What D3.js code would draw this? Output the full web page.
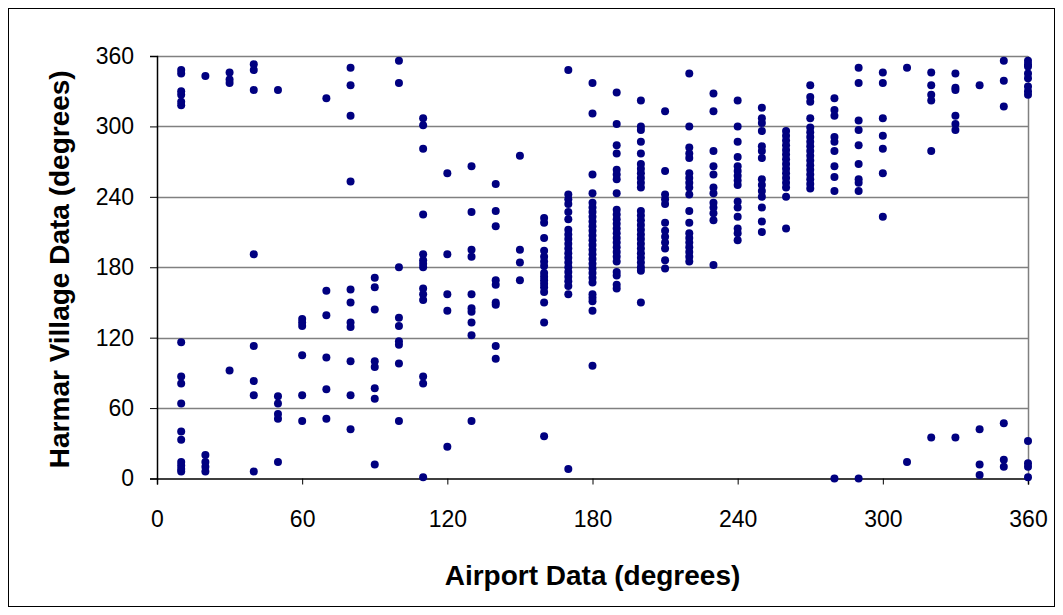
<!DOCTYPE html>
<html>
<head>
<meta charset="utf-8">
<script src="https://cdn.jsdelivr.net/npm/d3@7"></script>
<style>
  body { margin: 0; background: #fff; }
  svg { display: block; font-family: "Liberation Sans", Arial, sans-serif; }
</style>
</head>
<body>
<svg id="chart" width="1063" height="615"></svg>
<script>
// Wind direction pairs: airport reading (x) vs. Harmar Village reading (y), grouped by airport bin
const airportDirections = [10, 20, 30, 40, 50, 60, 70, 80, 90, 100, 110, 120, 130, 140, 150, 160, 170, 180,
  190, 200, 210, 220, 230, 240, 250, 260, 270, 280, 290, 300, 310, 320, 330, 340, 350, 360];

const harmarReadings = [
  [348, 345, 330, 327, 321, 318, 116, 87, 81, 64, 40, 33, 14, 11, 8, 6],
  [343, 20, 14, 10, 6],
  [346, 340, 337, 92],
  [353, 348, 331, 191, 113, 83, 71, 6],
  [331, 70, 64, 55, 51, 14],
  [136, 133, 130, 105, 71, 49],
  [324, 160, 139, 103, 76, 51],
  [350, 335, 309, 253, 161, 150, 133, 129, 100, 71, 42],
  [171, 163, 144, 100, 95, 77, 68, 12],
  [356, 337, 180, 137, 130, 117, 114, 98, 49],
  [307, 301, 281, 225, 191, 186, 183, 180, 162, 157, 152, 87, 81, 1],
  [260, 191, 157, 143, 27],
  [266, 227, 195, 189, 157, 145, 142, 133, 122, 49],
  [251, 228, 215, 169, 165, 150, 148, 113, 102],
  [275, 195, 184, 169],
  [222, 218, 205, 194, 189, 185, 181, 175, 172, 169, 166, 163, 159, 150, 133, 36],
  [348, 242, 238, 234, 227, 221, 212, 208, 204, 200, 196, 192, 188, 184, 180, 176, 172, 168, 164, 157, 8],
  [337, 311, 259, 243, 235, 231, 227, 223, 219, 215, 211, 207, 203, 199, 195, 191, 187, 183, 179, 175, 171, 167, 157, 154, 151, 143, 96],
  [329, 302, 284, 277, 263, 259, 255, 243, 229, 225, 221, 217, 213, 209, 205, 201, 197, 193, 189, 185, 176, 173, 165, 162],
  [322, 300, 297, 287, 277, 268, 264, 260, 256, 252, 248, 228, 224, 220, 216, 212, 208, 204, 200, 196, 192, 188, 184, 180, 177, 150],
  [313, 262, 242, 238, 234, 218, 211, 206, 201, 196, 186, 179],
  [345, 300, 282, 277, 273, 260, 256, 252, 248, 242, 228, 218, 209, 205, 201, 197, 193, 189, 185],
  [328, 313, 279, 266, 259, 248, 243, 235, 231, 226, 220, 182],
  [322, 300, 287, 274, 266, 262, 258, 254, 250, 236, 231, 223, 213, 209, 203],
  [316, 307, 303, 296, 283, 279, 273, 255, 250, 245, 240, 231, 219, 210],
  [296, 292, 288, 284, 280, 276, 272, 268, 264, 260, 256, 252, 248, 240, 213],
  [335, 325, 321, 307, 299, 295, 291, 287, 283, 279, 275, 271, 267, 263, 259, 255, 251, 247],
  [324, 314, 309, 291, 287, 279, 266, 257, 245, 0],
  [350, 337, 305, 297, 284, 268, 255, 252, 245, 0],
  [346, 337, 307, 292, 281, 260, 223],
  [350, 14],
  [346, 335, 327, 322, 279, 35],
  [345, 333, 331, 309, 302, 297, 35],
  [335, 42, 12, 3],
  [356, 339, 317, 47, 16, 10],
  [356, 353, 351, 345, 341, 334, 330, 327, 32, 13, 10, 1]
];

const xTickValues = [0, 60, 120, 180, 240, 300, 360];
const yTickValues = [0, 60, 120, 180, 240, 300, 360];
const xTitle = "Airport Data (degrees)";
const yTitle = "Harmar Village Data (degrees)";

const points = [];
airportDirections.forEach((a, i) => harmarReadings[i].forEach(h => points.push({ a, h })));

const svg = d3.select("#chart");
const W = 1063, H = 615;
const plot = { left: 157, top: 56, right: 1028, bottom: 478.5 };

// outer chart frame
svg.append("rect")
  .attr("x", 8.5).attr("y", 8.5)
  .attr("width", W - 17).attr("height", H - 17)
  .attr("fill", "#fff").attr("stroke", "#000").attr("stroke-width", 1);

const x = d3.scaleLinear().domain([0, 360]).range([plot.left, plot.right]);
const y = d3.scaleLinear().domain([0, 360]).range([plot.bottom, plot.top]);

// horizontal gridlines
svg.append("g")
  .selectAll("line")
  .data(yTickValues.filter(v => v > 0))
  .join("line")
  .attr("x1", plot.left).attr("x2", plot.right)
  .attr("y1", d => Math.round(y(d)) + 0.5).attr("y2", d => Math.round(y(d)) + 0.5)
  .attr("stroke", "#808080").attr("stroke-width", 1.5);

// plot area right border
svg.append("line")
  .attr("x1", plot.right + 0.5).attr("x2", plot.right + 0.5)
  .attr("y1", plot.top).attr("y2", plot.bottom)
  .attr("stroke", "#808080").attr("stroke-width", 1.5);

// axes
const xAxis = d3.axisBottom(x).tickValues(xTickValues).tickSize(6).tickPadding(26);
const yAxis = d3.axisLeft(y).tickValues(yTickValues).tickSize(7).tickPadding(16);

const gx = svg.append("g")
  .attr("transform", `translate(0,${plot.bottom})`)
  .call(xAxis);
const gy = svg.append("g")
  .attr("transform", `translate(${plot.left},0)`)
  .call(yAxis);

[gx, gy].forEach(g => {
  g.select(".domain").attr("stroke", "#000").attr("stroke-width", 1.5);
  g.selectAll(".tick line").attr("stroke", "#000").attr("stroke-width", 1);
  g.selectAll(".tick text")
    .attr("fill", "#000")
    .style("font-size", "23px")
    .style("font-family", "'Liberation Sans', Arial, sans-serif");
});

// data points
svg.append("g")
  .selectAll("circle")
  .data(points)
  .join("circle")
  .attr("cx", d => x(d.a))
  .attr("cy", d => y(d.h))
  .attr("r", 4)
  .attr("fill", "#000080");

// axis titles
svg.append("text")
  .attr("x", (plot.left + plot.right) / 2)
  .attr("y", 585)
  .attr("text-anchor", "middle")
  .style("font-size", "28px")
  .style("font-weight", "bold")
  .text(xTitle);

svg.append("text")
  .attr("transform", `translate(69,${(plot.top + plot.bottom) / 2 + 2}) rotate(-90)`)
  .attr("text-anchor", "middle")
  .style("font-size", "28px")
  .style("font-weight", "bold")
  .text(yTitle);
</script>
</body>
</html>
